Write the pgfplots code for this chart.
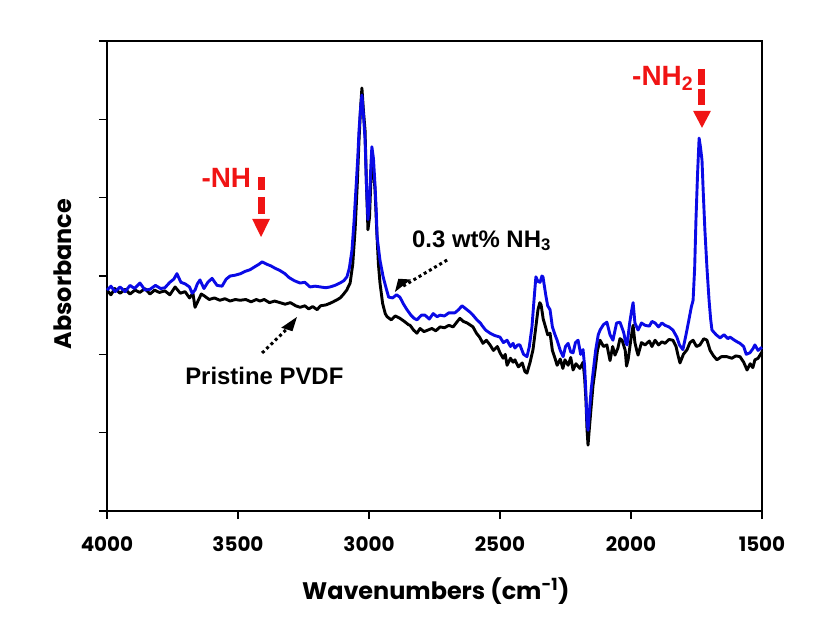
\documentclass[border=0pt]{standalone}
\usepackage{fontspec}
\setmainfont{Liberation Sans}
\newfontfamily\gothic{Poppins}
\usepackage{pgfplots}
\pgfplotsset{compat=1.18}
\definecolor{sblue}{RGB}{10,10,230}
\definecolor{sred}{RGB}{240,20,20}
\begin{document}
\begin{tikzpicture}
\begin{axis}[
  name=ax,
  scale only axis,
  width=655bp, height=470bp,
  xmin=1500, xmax=4000, x dir=reverse,
  ymin=0, ymax=6,
  xtick={1500,2000,2500,3000,3500,4000},
  ytick={0,1,2,3,4,5,6},
  yticklabels={},
  xtick pos=bottom, ytick pos=left,
  tick align=outside,
  major tick length=8bp,
  axis line style={line width=1.3bp},
  every tick/.style={black, line width=1.3bp},
  /pgf/number format/assume math mode=true,
  /pgf/number format/1000 sep={},
  xticklabel style={font=\gothic\bfseries\fontsize{20}{22}\selectfont, yshift=-14bp},
  xlabel={Wavenumbers (cm\textsuperscript{-1})},
  ylabel={Absorbance},
  xlabel style={font=\gothic\bfseries\fontsize{24}{26}\selectfont, at={(axis description cs:0.502,0)}, anchor=center, yshift=-80bp},
  ylabel style={font=\gothic\bfseries\fontsize{24}{26}\selectfont, at={(axis description cs:-0.067,0.504)}, anchor=center},
  clip=false,
]
% Pristine PVDF (black)
\addplot[black, line width=2.9bp, line join=round] coordinates {
(4000,2.82) (3985,2.76) (3970,2.84) (3950,2.78) (3930,2.83) (3912,2.77) (3893,2.82) (3875,2.79) (3855,2.84) (3836,2.77) (3818,2.82) (3800,2.79) (3779,2.81) (3760,2.76) (3740,2.86) (3720,2.78) (3702,2.80) (3685,2.72) (3672,2.78) (3664,2.60) (3650,2.70) (3640,2.77) (3626,2.74) (3610,2.70) (3590,2.72) (3569,2.69) (3550,2.71) (3530,2.68) (3510,2.70) (3492,2.69) (3470,2.70) (3450,2.67) (3430,2.70) (3416,2.68) (3400,2.70) (3380,2.66) (3360,2.68) (3340,2.66) (3320,2.64) (3300,2.66) (3280,2.62) (3263,2.60) (3245,2.62) (3230,2.58) (3215,2.61) (3198,2.57) (3185,2.62) (3165,2.63) (3150,2.65) (3137,2.67) (3120,2.70) (3110,2.72) (3099,2.76) (3085,2.82) (3072,2.91) (3062,3.15) (3053,3.59) (3045,4.15) (3038,4.74) (3032,5.15) (3027,5.40) (3021,5.10) (3015,4.86) (3010,4.20) (3004,3.59) (2998,3.75) (2993,4.20) (2989,4.48) (2983,4.35) (2977,4.10) (2970,3.55) (2964,3.15) (2958,2.91) (2948,2.65) (2938,2.52) (2931,2.48) (2915,2.44) (2900,2.49) (2882,2.46) (2865,2.42) (2850,2.38) (2843,2.37) (2830,2.31) (2817,2.27) (2805,2.33) (2790,2.29) (2775,2.31) (2760,2.33) (2745,2.30) (2729,2.35) (2712,2.34) (2695,2.37) (2679,2.35) (2665,2.41) (2653,2.46) (2640,2.42) (2625,2.40) (2603,2.35) (2590,2.27) (2578,2.22) (2565,2.14) (2552,2.18) (2538,2.12) (2525,2.05) (2510,2.10) (2500,2.02) (2488,1.95) (2480,2.00) (2473,1.86) (2460,1.95) (2450,1.90) (2443,1.93) (2430,1.84) (2415,1.89) (2405,1.78) (2397,1.76) (2385,1.90) (2374,2.06) (2365,2.30) (2355,2.57) (2348,2.66) (2343,2.63) (2335,2.45) (2328,2.37) (2318,2.25) (2309,2.27) (2300,2.05) (2290,1.95) (2282,1.86) (2270,1.94) (2260,1.82) (2252,1.93) (2240,1.86) (2230,1.96) (2221,1.80) (2210,1.88) (2195,1.82) (2183,1.90) (2177,1.70) (2172,1.42) (2168,1.05) (2164,0.84) (2159,1.05) (2153,1.29) (2145,1.60) (2137,1.80) (2128,2.05) (2118,2.18) (2105,2.10) (2092,2.12) (2080,1.92) (2070,2.10) (2061,1.99) (2050,2.08) (2042,2.20) (2034,2.18) (2022,2.05) (2017,1.85) (2011,1.93) (2000,2.20) (1992,2.37) (1985,2.15) (1978,2.05) (1973,1.99) (1960,2.15) (1946,2.12) (1930,2.17) (1920,2.10) (1908,2.18) (1895,2.12) (1882,2.16) (1870,2.14) (1855,2.19) (1840,2.18) (1828,2.10) (1820,1.98) (1813,1.89) (1800,2.00) (1786,2.06) (1775,2.15) (1763,2.18) (1750,2.10) (1737,2.12) (1722,2.20) (1710,2.18) (1698,2.05) (1685,1.98) (1672,1.93) (1655,1.97) (1634,1.97) (1615,1.95) (1600,1.98) (1584,1.97) (1570,1.90) (1557,1.80) (1545,1.88) (1535,1.83) (1527,1.93) (1515,1.95) (1500,2.03)
};
% 0.3 wt% NH3 (blue)
\addplot[sblue, line width=2.9bp, line join=round] coordinates {
(4000,2.82) (3985,2.87) (3969,2.80) (3950,2.86) (3931,2.80) (3912,2.88) (3895,2.84) (3874,2.91) (3855,2.82) (3836,2.83) (3815,2.88) (3795,2.84) (3779,2.85) (3760,2.92) (3745,2.96) (3733,3.03) (3718,2.92) (3702,2.90) (3685,2.86) (3675,2.78) (3664,2.82) (3655,2.90) (3645,2.95) (3630,2.84) (3615,2.92) (3599,2.97) (3580,2.88) (3561,2.87) (3545,2.96) (3530,3.00) (3511,3.01) (3490,3.03) (3472,3.06) (3454,3.08) (3435,3.12) (3420,3.15) (3408,3.18) (3390,3.15) (3375,3.13) (3359,3.10) (3340,3.07) (3321,3.03) (3305,2.98) (3285,2.94) (3263,2.91) (3245,2.92) (3225,2.86) (3206,2.87) (3185,2.86) (3165,2.85) (3149,2.86) (3130,2.88) (3111,2.91) (3096,2.94) (3084,2.99) (3075,3.10) (3065,3.33) (3057,3.70) (3050,4.10) (3043,4.50) (3038,4.86) (3032,5.15) (3027,5.31) (3021,5.05) (3015,4.74) (3010,4.20) (3004,3.72) (2998,3.95) (2993,4.40) (2989,4.65) (2983,4.50) (2977,4.16) (2972,3.80) (2969,3.50) (2958,3.20) (2946,2.99) (2935,2.85) (2925,2.73) (2910,2.72) (2895,2.76) (2882,2.73) (2868,2.64) (2855,2.57) (2840,2.50) (2828,2.46) (2817,2.44) (2800,2.50) (2786,2.50) (2770,2.45) (2755,2.52) (2740,2.48) (2729,2.50) (2712,2.49) (2695,2.53) (2672,2.53) (2658,2.57) (2645,2.62) (2630,2.58) (2615,2.54) (2603,2.50) (2588,2.44) (2575,2.40) (2569,2.37) (2555,2.31) (2538,2.27) (2520,2.24) (2500,2.22) (2487,2.15) (2473,2.18) (2460,2.10) (2450,2.14) (2443,2.08) (2432,2.12) (2424,2.12) (2410,2.00) (2397,1.97) (2388,2.10) (2378,2.35) (2370,2.70) (2363,2.99) (2355,2.93) (2347,2.92) (2340,3.00) (2336,2.99) (2325,2.75) (2318,2.62) (2309,2.57) (2300,2.35) (2290,2.25) (2282,2.18) (2270,2.05) (2259,1.97) (2250,2.10) (2240,2.14) (2230,2.03) (2221,2.02) (2212,2.15) (2202,2.18) (2192,2.00) (2183,2.06) (2177,1.85) (2172,1.50) (2168,1.15) (2164,1.03) (2158,1.30) (2152,1.55) (2145,1.76) (2135,2.05) (2125,2.25) (2118,2.31) (2105,2.38) (2092,2.41) (2080,2.25) (2069,2.18) (2055,2.40) (2042,2.41) (2028,2.28) (2020,2.15) (2015,2.12) (2005,2.40) (1998,2.55) (1992,2.66) (1985,2.40) (1973,2.31) (1960,2.40) (1946,2.37) (1930,2.36) (1920,2.42) (1908,2.40) (1895,2.35) (1882,2.40) (1870,2.37) (1855,2.35) (1840,2.31) (1825,2.22) (1815,2.12) (1802,2.06) (1790,2.25) (1779,2.44) (1770,2.60) (1763,2.69) (1757,3.10) (1752,3.72) (1746,4.30) (1740,4.76) (1735,4.65) (1729,4.48) (1724,4.05) (1718,3.59) (1710,3.10) (1702,2.69) (1696,2.45) (1691,2.31) (1675,2.25) (1660,2.21) (1645,2.25) (1630,2.20) (1622,2.22) (1605,2.18) (1595,2.16) (1584,2.14) (1570,2.10) (1560,2.00) (1546,2.02) (1535,2.07) (1527,2.12) (1515,2.05) (1500,2.09)
};
% -NH annotation
\node[anchor=base west, text=sred, font=\bfseries\fontsize{28}{30}\selectfont, inner sep=0pt] at (axis cs:3640,4.124) {-NH};
\draw[sred, line width=7bp] (axis cs:3412,4.264) -- (axis cs:3412,4.098);
\draw[sred, line width=7bp] (axis cs:3412,4.009) -- (axis cs:3412,3.792);
\fill[sred] (axis cs:3446,3.728) -- (axis cs:3378,3.728) -- (axis cs:3412,3.498) -- cycle;
% -NH2 annotation
\node[anchor=base west, text=sred, font=\bfseries\fontsize{28}{30}\selectfont, inner sep=0pt] at (axis cs:1996,5.438) {-NH\textsubscript{2}};
\draw[sred, line width=7bp] (axis cs:1729,5.643) -- (axis cs:1729,5.438);
\draw[sred, line width=7bp] (axis cs:1729,5.387) -- (axis cs:1729,5.183);
\fill[sred] (axis cs:1763,5.107) -- (axis cs:1695,5.107) -- (axis cs:1729,4.891) -- cycle;
% 0.3 wt% NH3
\node[anchor=base west, font=\bfseries\fontsize{24}{26}\selectfont, inner sep=0pt] at (axis cs:2836,3.370) {0.3 wt\% NH\textsubscript{3}};
\draw[black, line width=3bp, dash pattern=on 3bp off 3bp] (axis cs:2702,3.204) -- (axis cs:2870,2.87);
\fill[black] (axis cs:2901,2.796) -- (axis cs:2840,2.955) -- (axis cs:2888,2.965) -- cycle;
% Pristine PVDF
\node[anchor=base west, font=\bfseries\fontsize{24}{26}\selectfont, inner sep=0pt] at (axis cs:3702,1.609) {Pristine PVDF};
\draw[black, line width=3bp, dash pattern=on 3bp off 3bp] (axis cs:3408,2.017) -- (axis cs:3296,2.38);
\fill[black] (axis cs:3275,2.477) -- (axis cs:3335,2.340) -- (axis cs:3292,2.295) -- cycle;
\end{axis}
\pgfresetboundingbox
\path (ax.south west) ++(-107bp,-112bp) rectangle ++(833bp,623bp);
\end{tikzpicture}
\end{document}
